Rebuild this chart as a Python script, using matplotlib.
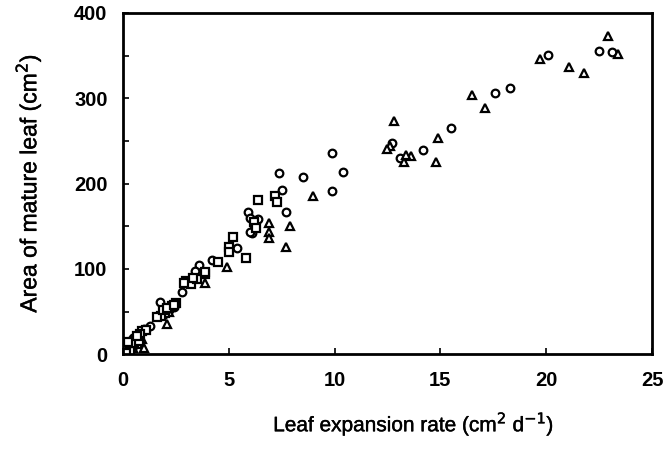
import matplotlib.pyplot as plt
import matplotlib.patheffects as pe
from matplotlib.ticker import MultipleLocator

# open circles
circ_x = [20.1, 22.5, 23.1, 17.6, 18.3, 15.5, 14.2, 12.7, 13.1, 9.9, 10.4, 8.5, 9.9,
          7.4, 7.5, 7.7, 5.9, 6.0, 6.1, 6.0, 5.4, 4.2, 3.6, 3.4, 2.8, 1.75, 1.3, 1.0,
          0.6, 0.4, 0.2, 0.1, 2.0, 2.4, 3.0, 6.2, 6.4, 0.8, 0.3, 1.9, 2.2, 0.5, 0.15]
circ_y = [351, 355, 354, 306, 312, 265, 239, 248, 230, 236, 214, 208, 191,
          213, 193, 167, 167, 160, 142, 143, 125, 111, 105, 98, 73, 61, 33, 30,
          22, 15, 8, 4, 50, 55, 85, 152, 158, 25, 10, 46, 52, 19, 6]

# open triangles
tri_x = [22.9, 23.4, 21.1, 21.8, 19.7, 16.5, 17.1, 14.9, 14.8, 12.8, 12.6, 12.5,
         13.3, 13.6, 13.4, 9.0, 7.9, 7.7, 6.9, 6.9, 6.9, 4.9, 3.9, 2.1, 0.7, 0.5,
         0.3, 0.15, 2.2, 0.9, 0.6, 0.25, 0.45, 1.0, 0.05]
tri_y = [373, 352, 336, 330, 346, 304, 289, 253, 225, 273, 244, 240,
         225, 232, 234, 186, 150, 126, 154, 143, 136, 102, 84, 36, 12, 8,
         5, 2, 50, 18, 20, 7, 11, 8, 1]

# open squares
sq_x = [6.4, 7.2, 7.3, 6.2, 6.3, 5.2, 5.0, 5.0, 5.8, 4.5, 3.9, 3.0, 3.2, 3.5, 2.9,
        3.9, 2.5, 2.3, 2.0, 1.8, 1.6, 0.9, 0.7, 0.5, 0.3, 0.1, 0.0, 0.05, 0.4, 0.6,
        0.2, 1.1, 0.8, 0.35, 0.15, 0.55, 0.75, 1.9, 2.1, 2.4, 3.3, 0.65, 0.25]
sq_y = [181, 186, 178, 155, 148, 138, 126, 120, 113, 108, 94, 86, 82, 88, 84,
        96, 60, 57, 48, 45, 44, 27, 20, 15, 9, 3, 0, 1, 12, 18,
        6, 28, 24, 4, 2, 13, 16, 52, 54, 58, 90, 22, 14]

plt.rcParams['font.family'] = ['Liberation Sans', 'DejaVu Sans']

fig = plt.figure(figsize=(6.64, 4.59), dpi=100)
ax = fig.add_axes([0.185, 0.228, 0.797, 0.744])

style = dict(linestyle='none', markerfacecolor='white', markeredgecolor='black',
             markeredgewidth=1.6, color='black')
ax.plot(circ_x, circ_y, marker='o', markersize=5.5, **style)
ax.plot(tri_x, tri_y, marker='^', markersize=6, **style)
ax.plot(sq_x, sq_y, marker='s', markersize=5.5, **style)

ax.set_xlim(0, 25)
ax.set_ylim(0, 400)
ax.xaxis.set_major_locator(MultipleLocator(5))
ax.yaxis.set_major_locator(MultipleLocator(100))
ax.yaxis.set_minor_locator(MultipleLocator(50))

for s in ax.spines.values():
    s.set_linewidth(2)

ax.tick_params(which='both', direction='in', width=1.2, top=False, right=False)
ax.tick_params(which='major', length=4, labelsize=14.5)
ax.tick_params(axis='x', pad=12)
ax.tick_params(axis='y', pad=11)
ax.tick_params(which='minor', length=4)
for lbl in ax.get_xticklabels() + ax.get_yticklabels():
    lbl.set_fontweight('bold')

thick = [pe.withStroke(linewidth=0.3, foreground='black')]
ax.set_xlabel('Leaf expansion rate (cm$^2$ d$^{-1}$)', fontsize=15, path_effects=thick)
ax.set_ylabel('Area of mature leaf (cm$^2$)', fontsize=16.5, labelpad=22,
              path_effects=thick)
ax.xaxis.set_label_coords(0.55, -0.16)

fig.savefig('out.png', dpi=100)
